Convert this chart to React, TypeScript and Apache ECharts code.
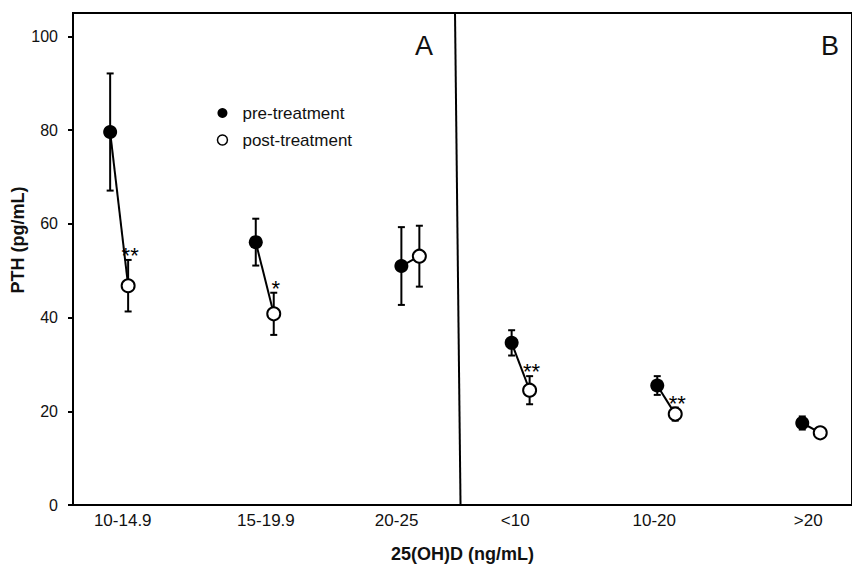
import React, { useEffect, useRef } from "react";
import * as echarts from "echarts";

// ---- data ----
const categories = ["10-14.9", "15-19.9", "20-25", "<10", "10-20", ">20"];
const groupCenters = [0.77, 3.2, 5.63, 7.47, 9.9, 12.32];
const labelPositions = [0.83, 3.22, 5.4, 7.38, 9.7, 12.27];
const preMeans = [79.6, 56.1, 51.0, 34.6, 25.5, 17.5];
const preErrors = [12.5, 5.0, 8.3, 2.7, 2.0, 1.4];
const postMeans = [46.8, 40.8, 53.1, 24.5, 19.4, 15.4];
const postErrors = [5.5, 4.5, 6.5, 3.0, 1.4, 0.8];
const significance = ["**", "*", "", "**", "**", ""];
const yTicks = [0, 20, 40, 60, 80, 100];
const pairOffset = 0.15;
const dividerBottomX = 6.467;
const dividerTopX = 6.375;
const panelLetters = ["A", "B"];

const FONT = "'Liberation Sans', Arial, Helvetica, sans-serif";

export default function App() {
  const ref = useRef<HTMLDivElement>(null);

  useEffect(() => {
    if (!ref.current) return;
    const chart = echarts.init(ref.current, undefined, { renderer: "svg" });

    const preX = groupCenters.map((c) => c - pairOffset);
    const postX = groupCenters.map((c) => c + pairOffset);

    const errorData = [
      ...preX.map((x, i) => [x, preMeans[i], preErrors[i]]),
      ...postX.map((x, i) => [x, postMeans[i], postErrors[i]]),
    ];
    const pairData = preX.map((x, i) => [x, preMeans[i], postX[i], postMeans[i]]);

    const black = "#000";

    const option: any = {
      animation: false,
      backgroundColor: "#fff",
      textStyle: { fontFamily: FONT },
      grid: {
        left: 73,
        top: 13,
        right: -1,
        bottom: 58,
        show: true,
        borderColor: black,
        borderWidth: 2,
        backgroundColor: "transparent",
      },
      legend: {
        orient: "vertical",
        left: 216.7,
        top: 104.5,
        padding: 0,
        itemWidth: 10,
        itemHeight: 10,
        itemGap: 10,
        icon: "circle",
        selectedMode: false,
        textStyle: {
          fontSize: 17,
          color: "#111",
          fontFamily: FONT,
          lineHeight: 17,
          padding: [0, 0, 0, 10],
        },
        data: [
          { name: "pre-treatment", itemStyle: { color: black, borderWidth: 0, opacity: 1 } },
          {
            name: "post-treatment",
            itemStyle: { color: "#fff", borderColor: black, borderWidth: 1.5, opacity: 1 },
          },
        ],
      },
      xAxis: {
        type: "value",
        min: 0,
        max: 13,
        splitLine: { show: false },
        axisLine: { show: true, onZero: false, lineStyle: { color: black, width: 2 } },
        axisTick: { show: false },
        axisLabel: {
          customValues: labelPositions,
          margin: 7,
          fontSize: 17,
          color: "#111",
          fontFamily: FONT,
          formatter: (v: number) => {
            const idx = labelPositions.findIndex((p) => Math.abs(p - v) < 1e-6);
            return idx >= 0 ? categories[idx] : "";
          },
        },
        name: "25(OH)D (ng/mL)",
        nameLocation: "middle",
        nameGap: 40,
        nameTextStyle: { fontSize: 18, fontWeight: "bold", color: "#111", fontFamily: FONT },
      },
      yAxis: {
        type: "value",
        min: 0,
        max: 105,
        interval: 20,
        splitLine: { show: false },
        axisLine: { show: true, lineStyle: { color: black, width: 2 } },
        axisTick: {
          show: true,
          inside: false,
          length: 5,
          customValues: yTicks,
          lineStyle: { color: black, width: 2 },
        },
        axisLabel: {
          customValues: yTicks,
          margin: 15,
          fontSize: 16,
          color: "#111",
          fontFamily: FONT,
        },
      },
      graphic: [
        {
          type: "text",
          x: 18,
          y: 240,
          rotation: Math.PI / 2,
          style: {
            text: "PTH (pg/mL)",
            fontSize: 18,
            fontWeight: "bold",
            fontFamily: FONT,
            fill: "#111",
            textAlign: "center",
            textVerticalAlign: "middle",
          },
        },
        {
          type: "text",
          x: 424,
          y: 46,
          style: {
            text: panelLetters[0],
            fontSize: 27,
            fontFamily: FONT,
            fill: "#111",
            textAlign: "center",
            textVerticalAlign: "middle",
          },
        },
        {
          type: "text",
          x: 830,
          y: 46,
          style: {
            text: panelLetters[1],
            fontSize: 27,
            fontFamily: FONT,
            fill: "#111",
            textAlign: "center",
            textVerticalAlign: "middle",
          },
        },
      ],
      series: [
        {
          type: "line",
          silent: true,
          symbol: "none",
          data: [
            [dividerBottomX, 0],
            [dividerTopX, 105],
          ],
          lineStyle: { color: black, width: 2 },
          z: 1,
        },
        {
          type: "custom",
          silent: true,
          data: pairData,
          z: 2,
          renderItem: (_p: any, api: any) => {
            const a = api.coord([api.value(0), api.value(1)]);
            const b = api.coord([api.value(2), api.value(3)]);
            return {
              type: "line",
              shape: { x1: a[0], y1: a[1], x2: b[0], y2: b[1] },
              style: { stroke: black, lineWidth: 2 },
            };
          },
        },
        {
          type: "custom",
          silent: true,
          data: errorData,
          z: 3,
          renderItem: (_p: any, api: any) => {
            const x = api.value(0);
            const y = api.value(1);
            const e = api.value(2);
            const top = api.coord([x, y + e]);
            const bot = api.coord([x, y - e]);
            const hw = 3.5;
            const style = { stroke: black, lineWidth: 2 };
            return {
              type: "group",
              children: [
                { type: "line", shape: { x1: top[0], y1: top[1], x2: bot[0], y2: bot[1] }, style },
                { type: "line", shape: { x1: top[0] - hw, y1: top[1], x2: top[0] + hw, y2: top[1] }, style },
                { type: "line", shape: { x1: bot[0] - hw, y1: bot[1], x2: bot[0] + hw, y2: bot[1] }, style },
              ],
            };
          },
        },
        {
          name: "pre-treatment",
          type: "scatter",
          symbol: "circle",
          symbolSize: 14,
          itemStyle: { color: black, opacity: 1 },
          data: preX.map((x, i) => [x, preMeans[i]]),
          z: 5,
        },
        {
          name: "post-treatment",
          type: "scatter",
          symbol: "circle",
          symbolSize: 13,
          itemStyle: { color: "#fff", borderColor: black, borderWidth: 2, opacity: 1 },
          data: postX.map((x, i) => [x, postMeans[i]]),
          z: 5,
        },
        {
          type: "scatter",
          silent: true,
          symbolSize: 1,
          itemStyle: { color: "rgba(0,0,0,0)", opacity: 1 },
          data: postX.map((x, i) => [x, postMeans[i] + postErrors[i]]),
          label: {
            show: true,
            position: "top",
            distance: 0,
            offset: [2, 7],
            fontSize: 22,
            color: "#000",
            opacity: 1,
            fontFamily: FONT,
            formatter: (p: any) => significance[p.dataIndex],
          },
          z: 6,
        },
      ],
    };

    chart.setOption(option);
    return () => chart.dispose();
  }, []);

  return (
    <div
      ref={ref}
      style={{ position: "fixed", left: 0, top: 0, width: 852, height: 568, background: "#fff" }}
    />
  );
}
